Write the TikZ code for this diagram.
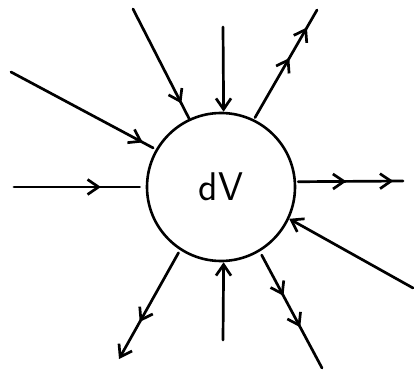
\documentclass[tikz,border=0pt]{standalone}
\usepackage{tikz}
\usetikzlibrary{arrows.meta,decorations.markings}
\tikzset{
  >={Straight Barb[length=11pt,width=15pt]},
  flux/.style  = {line width=2.7pt, line cap=round},
  arrowat/.style = {postaction={decorate, decoration={markings,
                    mark=at position #1 with {\arrow{>}}}}},
  vol/.style   = {circle, draw, line width=2.6pt, minimum size=148pt,
                  inner sep=0pt, font=\fontsize{40}{40}\selectfont\sffamily},
}

\begin{document}
\begin{tikzpicture}[x=1pt, y=1pt]
\useasboundingbox (0,0) rectangle (414,372);
% the volume element
\node[vol] (dv) at (221,185) {dV};

% free ends
\coordinate (nnw) at (133,363);
\coordinate (wnw) at (11,300);
\coordinate (w)   at (14,185);
\coordinate (n)   at (223,345);
\coordinate (nne) at (317,362);
\coordinate (e)   at (403,191);
\coordinate (ese) at (413,84);
\coordinate (sse) at (322,4);
\coordinate (s)   at (223,32);
\coordinate (ssw) at (119,13);

% flux in
\draw[flux, arrowat=0.86] (nnw) -- (dv.115);
\draw[flux, arrowat=0.91, shorten >=3pt] (wnw) -- (dv.150);
\draw[flux, arrowat=0.66, shorten >=6pt] (w) -- (dv.180);
\draw[flux, ->] (n) -- (dv.88.5);
\draw[flux, ->] (ese) -- (dv.-25);
\draw[flux, ->] (s) -- (dv.-88.5);

% flux out
\draw[flux, arrowat=0.56, arrowat=0.84, shorten <=2pt] (dv.64) -- (nne);
\draw[flux, arrowat=0.47, arrowat=0.91, shorten <=2pt] (dv.4) -- (e);
\draw[flux, arrowat=0.38, arrowat=0.65, shorten <=4pt] (dv.-59.5) -- (sse);
\draw[flux, ->, arrowat=0.66, shorten <=3pt] (dv.-123.5) -- (ssw);
\end{tikzpicture}
\end{document}
